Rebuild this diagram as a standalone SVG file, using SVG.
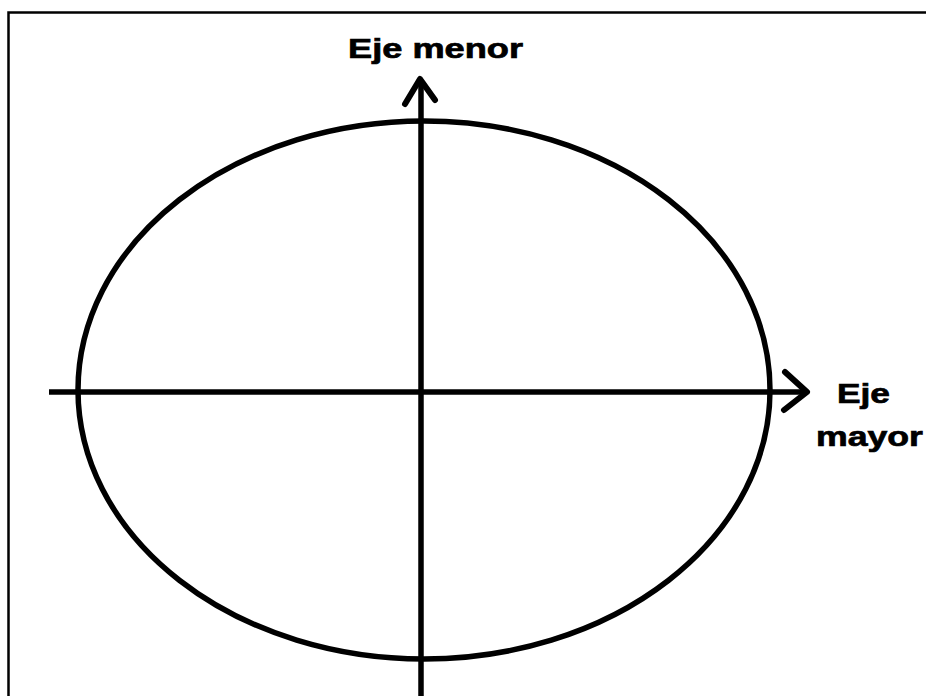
<svg xmlns="http://www.w3.org/2000/svg" width="926" height="696" viewBox="0 0 926 696">
<style>
.ln{fill:none;stroke:#000;stroke-width:5.5;stroke-linecap:butt}
.ah{fill:none;stroke:#000;stroke-width:6;stroke-linecap:round;stroke-linejoin:round}
.lbl{font-family:"Liberation Sans",Arial,sans-serif;font-weight:bold;font-size:28px;fill:#000;stroke:#000;stroke-width:0.7}
</style>
<rect width="926" height="696" fill="#fff"/>
<path d="M8.5,696 V12.5 H926" fill="none" stroke="#000" stroke-width="2.5"/>
<g id="ellipse">
<ellipse cx="424" cy="390" rx="346" ry="269" class="ln"/>
</g>
<g id="connectors">
<line x1="49" y1="392" x2="806" y2="392" class="ln"/>
<polyline points="785,372 807,392 784,410" class="ah"/>
<line x1="421" y1="696" x2="421" y2="80" class="ln"/>
<polyline points="405,104 420,79 435,100" class="ah"/>
</g>
<g id="label-menor">
<text x="348" y="58" class="lbl" textLength="175" lengthAdjust="spacingAndGlyphs">Eje menor</text>
</g>
<g id="label-mayor">
<text x="837" y="403" class="lbl" textLength="53" lengthAdjust="spacingAndGlyphs">Eje</text>
<text x="816" y="446" class="lbl" textLength="107" lengthAdjust="spacingAndGlyphs">mayor</text>
</g>
</svg>
